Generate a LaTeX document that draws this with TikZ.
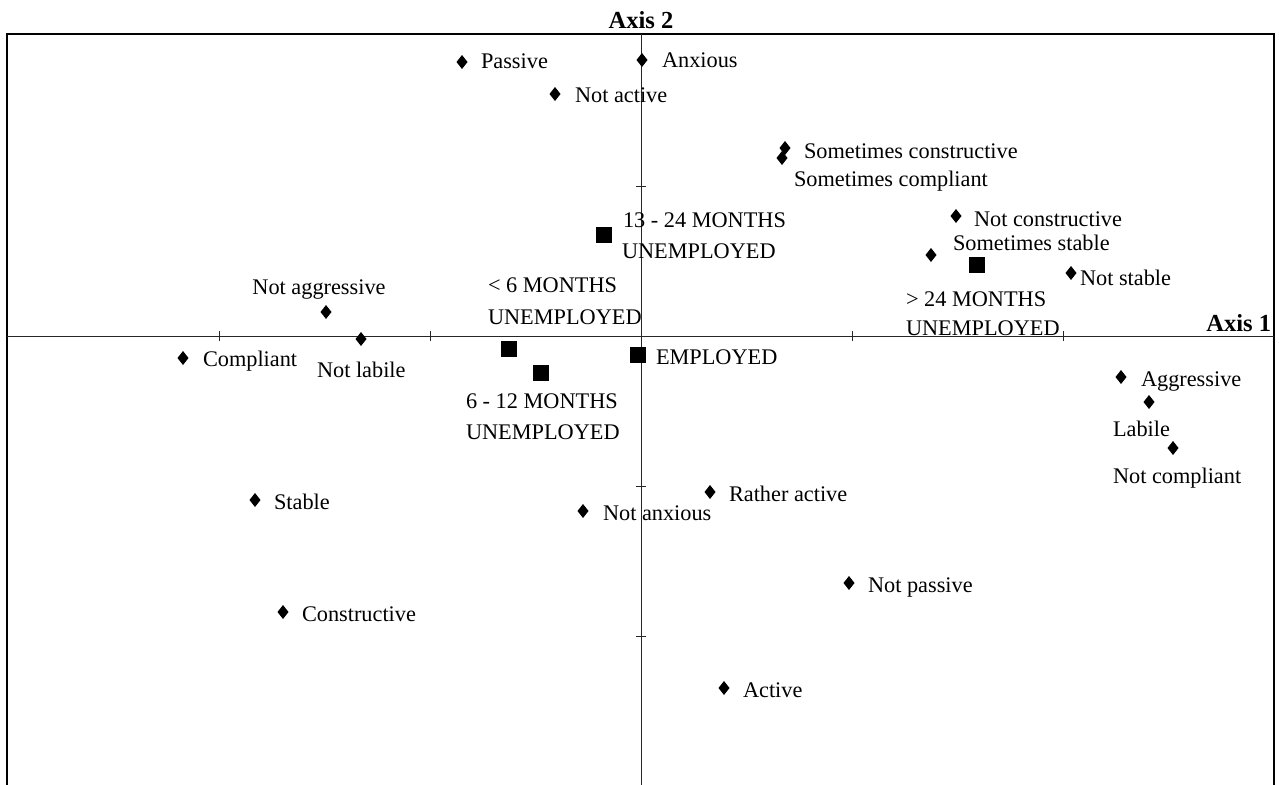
\documentclass[tikz,border=0pt]{standalone}
\usepackage{fontspec}
\setmainfont{Liberation Serif}
\begin{document}
\begin{tikzpicture}[x=1pt,y=-1pt,
  lab/.style={inner sep=0pt, outer sep=0pt, font=\fontsize{22.3}{31}\selectfont, anchor=base west},
  axlab/.style={inner sep=0pt, outer sep=0pt, font=\fontsize{24.5}{28}\selectfont\bfseries},
  sq/.style={fill=black, draw=none, inner sep=0pt, minimum size=16pt, shape=rectangle},
  axisline/.style={draw=black!85, line width=0.9pt},
  frameline/.style={draw=black, line width=1.4pt}
]
\useasboundingbox (0,0) rectangle (1279,784);
% frame
\coordinate (tl) at (7,34);
\coordinate (tr) at (1274,34);
\coordinate (bl) at (7,790);
\coordinate (br) at (1274,790);
\draw[frameline] (bl) -- (tl) -- (tr) -- (br);
% axes
\coordinate (xl) at (7,336);
\coordinate (xr) at (1274,336);
\coordinate (yt) at (641,34);
\coordinate (yb) at (641,790);
\draw[axisline] (xl) -- (xr);
\draw[axisline] (yt) -- (yb);
% ticks
\foreach \tx in {219,430,852,1063}{\draw[axisline] (\tx,331) -- (\tx,341);}
\foreach \ty in {186,486,636}{\draw[axisline] (636,\ty) -- (646,\ty);}
% axis labels
\node[axlab, anchor=base] (ax2) at (641,29) {Axis 2};
\node[axlab, anchor=base east] (ax1) at (1271,331) {Axis 1};
% diamond markers
\newcommand{\dmark}[3]{\fill (#2,#3) +(0,-7) -- +(5.5,0) -- +(0,7) -- +(-5.5,0) -- cycle; \coordinate (#1) at (#2,#3);}
\dmark{dPassive}{462}{62}
\node[lab] (tPassive) at (481,69) {Passive};
\dmark{dAnxious}{642}{60}
\node[lab] (tAnxious) at (662,67) {Anxious};
\dmark{dNotActive}{555}{94}
\node[lab] (tNotActive) at (575,102) {Not active};
\dmark{dSomCons}{785}{148}
\node[lab] (tSomCons) at (804,158) {Sometimes constructive};
\dmark{dSomComp}{782}{158}
\node[lab] (tSomComp) at (794,186) {Sometimes compliant};
\dmark{dNotCons}{956}{216}
\node[lab] (tNotCons) at (974,226) {Not constructive};
\dmark{dSomStab}{931}{255}
\node[lab] (tSomStab) at (953,250) {Sometimes stable};
\dmark{dNotStab}{1071}{273}
\node[lab] (tNotStab) at (1080,285) {Not stable};
\dmark{dNotAggr}{326}{312}
\node[lab, anchor=base] (tNotAggr) at (319,294) {Not aggressive};
\dmark{dNotLab}{361}{339}
\node[lab] (tNotLab) at (317,377) {Not labile};
\dmark{dComp}{183}{358}
\node[lab] (tComp) at (203,366) {Compliant};
\dmark{dAggr}{1121}{377}
\node[lab] (tAggr) at (1141,386) {Aggressive};
\dmark{dLab}{1149}{402}
\node[lab] (tLab) at (1113,436) {Labile};
\dmark{dNotComp}{1173}{448}
\node[lab] (tNotComp) at (1113,483) {Not compliant};
\dmark{dStab}{255}{500}
\node[lab] (tStab) at (274,509) {Stable};
\dmark{dRathAct}{710}{492}
\node[lab] (tRathAct) at (729,501) {Rather active};
\dmark{dNotAnx}{583}{511}
\node[lab] (tNotAnx) at (603,520) {Not anxious};
\dmark{dNotPass}{849}{583}
\node[lab] (tNotPass) at (868,592) {Not passive};
\dmark{dCons}{283}{612}
\node[lab] (tCons) at (302,621) {Constructive};
\dmark{dAct}{724}{688}
\node[lab] (tAct) at (743,697) {Active};
% squares
\node[sq] (s1324) at (604,235) {};
\node[lab] (t1324a) at (623,227) {13 - 24 MONTHS};
\node[lab] (t1324b) at (622,258) {UNEMPLOYED};
\node[sq] (s24) at (977,265) {};
\node[lab] (t24a) at (906,306) {> 24 MONTHS};
\node[lab] (t24b) at (906,335) {UNEMPLOYED};
\node[sq] (s6) at (509,349) {};
\node[lab] (t6a) at (488,292) {< 6 MONTHS};
\node[lab] (t6b) at (488,324) {UNEMPLOYED};
\node[sq] (s612) at (541,373) {};
\node[lab] (t612a) at (466,408) {6 - 12 MONTHS};
\node[lab] (t612b) at (466,439) {UNEMPLOYED};
\node[sq] (sEmp) at (638,355) {};
\node[lab] (tEmp) at (656,364) {EMPLOYED};
\end{tikzpicture}
\end{document}
